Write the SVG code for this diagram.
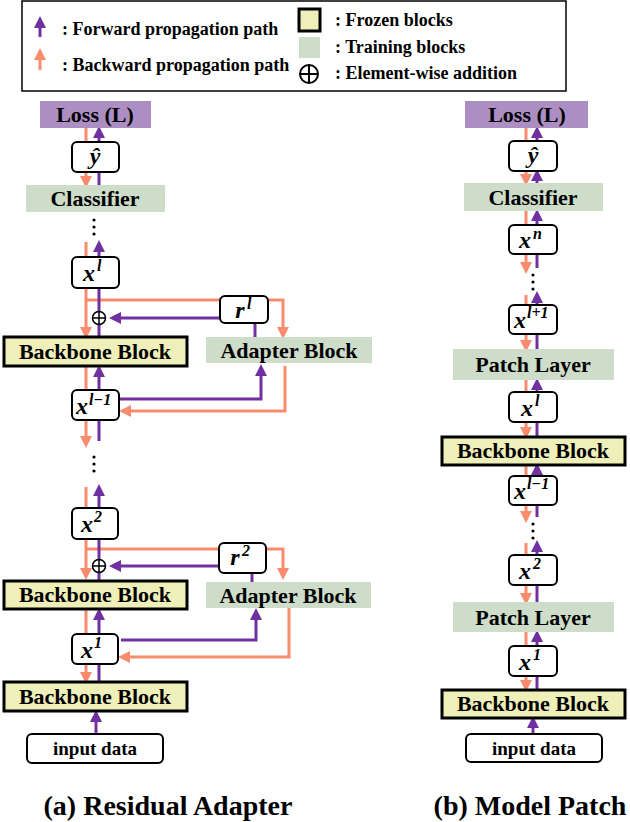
<svg xmlns="http://www.w3.org/2000/svg" width="630" height="822" viewBox="0 0 630 822">
<style>
text{font-family:"Liberation Serif","Times New Roman",serif;font-weight:bold;fill:#000}
.t{font-size:22px;text-anchor:middle}
.m{font-size:24px;font-style:italic;text-anchor:middle}
.sup{font-size:16px;font-style:italic}
.lg{font-size:18px}
.var{fill:#fff;stroke:#000;stroke-width:2}
.frz{fill:#EFEFB9;stroke:#000;stroke-width:3}
.trn{fill:#CEDDCA}
.loss{fill:#AD8EC2}
.p{stroke:#7030A0;stroke-width:3;fill:none}
.o{stroke:#F98C6E;stroke-width:3;fill:none}
.pa{marker-end:url(#ap)}
.oa{marker-end:url(#ao)}
.dot{fill:#000}
</style>
<defs>
<marker id="ap" markerWidth="4" markerHeight="4" refX="2" refY="2" orient="auto" markerUnits="strokeWidth"><path d="M0,0 L4,2 L0,4 Z" fill="#7030A0"/></marker>
<marker id="ao" markerWidth="4" markerHeight="4" refX="2" refY="2" orient="auto" markerUnits="strokeWidth"><path d="M0,0 L4,2 L0,4 Z" fill="#F98C6E"/></marker>
</defs>
<g id="legend">
<rect x="22" y="1" width="544" height="90" fill="#fff" stroke="#000" stroke-width="1.5"/>
<line x1="40" y1="37" x2="40" y2="22" class="p pa"/>
<line x1="40" y1="70" x2="40" y2="54" class="o oa"/>
<text x="62" y="35" class="lg">: Forward propagation path</text>
<text x="62" y="71" class="lg">: Backward propagation path</text>
<rect x="299" y="9" width="21" height="22" class="frz" stroke-width="2"/>
<rect x="299" y="37" width="21" height="21" class="trn"/>
<circle cx="309" cy="74" r="9" fill="none" stroke="#000" stroke-width="2"/>
<path d="M300,74 H318 M309,65 V83" stroke="#000" stroke-width="2"/>
<text x="335" y="26" class="lg">: Frozen blocks</text>
<text x="335" y="53" class="lg">: Training blocks</text>
<text x="335" y="79" class="lg">: Element-wise addition</text>
</g>
<g id="connectors">
<line x1="86" y1="128" x2="86" y2="142" class="o"/>
<line x1="99" y1="142" x2="99" y2="132" class="p pa"/>
<line x1="86" y1="172" x2="86" y2="182" class="o oa"/>
<line x1="99" y1="185" x2="99" y2="172" class="p"/>
<line x1="86" y1="242" x2="86" y2="257" class="o"/>
<line x1="99" y1="257" x2="99" y2="246" class="p pa"/>
<polyline points="86,288 86,333" class="o oa"/>
<polyline points="86,300 283,300 283,333" class="o oa"/>
<line x1="99" y1="288" x2="99" y2="312" class="p"/>
<line x1="99" y1="324" x2="99" y2="336" class="p"/>
<line x1="220" y1="318" x2="115" y2="318" class="p pa"/>
<line x1="255" y1="322" x2="255" y2="337" class="p"/>
<line x1="86" y1="366" x2="86" y2="390" class="o"/>
<line x1="99" y1="390" x2="99" y2="371" class="p pa"/>
<polyline points="119,399 261,399 261,370" class="p pa"/>
<polyline points="285,366 285,411 125,411" class="o oa"/>
<line x1="86" y1="420" x2="86" y2="442" class="o oa"/>
<line x1="99" y1="420" x2="99" y2="441" class="p"/>
<line x1="86" y1="487" x2="86" y2="508" class="o"/>
<line x1="99" y1="508" x2="99" y2="490" class="p pa"/>
<polyline points="86,539 86,574" class="o oa"/>
<polyline points="86,549 283,549 283,574" class="o oa"/>
<line x1="99" y1="539" x2="99" y2="560" class="p"/>
<line x1="99" y1="572" x2="99" y2="580" class="p"/>
<line x1="219" y1="566" x2="115" y2="566" class="p pa"/>
<line x1="252" y1="573" x2="252" y2="582" class="p"/>
<line x1="86" y1="609" x2="86" y2="634" class="o"/>
<line x1="99" y1="634" x2="99" y2="614" class="p pa"/>
<polyline points="121,640 256,640 256,614" class="p pa"/>
<polyline points="289,607 289,657 124,657" class="o oa"/>
<line x1="86" y1="664" x2="86" y2="678" class="o oa"/>
<line x1="99" y1="664" x2="99" y2="681" class="p"/>
<line x1="96" y1="734" x2="96" y2="716" class="p pa"/>
<line x1="526" y1="128" x2="526" y2="141" class="o"/>
<line x1="537" y1="141" x2="537" y2="132" class="p pa"/>
<line x1="526" y1="171" x2="526" y2="180" class="o oa"/>
<line x1="537" y1="183" x2="537" y2="175" class="p pa"/>
<line x1="526" y1="211" x2="526" y2="225" class="o"/>
<line x1="537" y1="225" x2="537" y2="215" class="p pa"/>
<line x1="526" y1="254" x2="526" y2="268" class="o oa"/>
<line x1="537" y1="254" x2="537" y2="268" class="p"/>
<line x1="526" y1="295" x2="526" y2="305" class="o"/>
<line x1="537" y1="305" x2="537" y2="297" class="p pa"/>
<line x1="526" y1="334" x2="526" y2="346" class="o oa"/>
<line x1="537" y1="334" x2="537" y2="349" class="p"/>
<line x1="526" y1="380" x2="526" y2="392" class="o"/>
<line x1="537" y1="392" x2="537" y2="384" class="p pa"/>
<line x1="526" y1="422" x2="526" y2="433" class="o oa"/>
<line x1="537" y1="422" x2="537" y2="436" class="p"/>
<line x1="526" y1="465" x2="526" y2="476" class="o"/>
<line x1="537" y1="476" x2="537" y2="469" class="p pa"/>
<line x1="526" y1="505" x2="526" y2="517" class="o oa"/>
<line x1="537" y1="505" x2="537" y2="517" class="p"/>
<line x1="526" y1="543" x2="526" y2="555" class="o"/>
<line x1="537" y1="555" x2="537" y2="546" class="p pa"/>
<line x1="526" y1="585" x2="526" y2="599" class="o oa"/>
<line x1="537" y1="585" x2="537" y2="602" class="p"/>
<line x1="526" y1="632" x2="526" y2="646" class="o"/>
<line x1="537" y1="646" x2="537" y2="636" class="p pa"/>
<line x1="526" y1="676" x2="526" y2="686" class="o oa"/>
<line x1="537" y1="676" x2="537" y2="689" class="p"/>
<line x1="533" y1="734" x2="533" y2="722" class="p pa"/>
</g>
<g id="dots">
<circle cx="94" cy="220" r="1.6" class="dot"/><circle cx="94" cy="227" r="1.6" class="dot"/><circle cx="94" cy="234" r="1.6" class="dot"/>
<circle cx="94" cy="457" r="1.6" class="dot"/><circle cx="94" cy="464" r="1.6" class="dot"/><circle cx="94" cy="471" r="1.6" class="dot"/>
<circle cx="533" cy="275" r="1.6" class="dot"/><circle cx="533" cy="282" r="1.6" class="dot"/><circle cx="533" cy="289" r="1.6" class="dot"/>
<circle cx="533" cy="524" r="1.6" class="dot"/><circle cx="533" cy="531" r="1.6" class="dot"/><circle cx="533" cy="538" r="1.6" class="dot"/>
</g>
<g id="plus1"><circle cx="99" cy="318" r="6.5" fill="#fff" stroke="#000" stroke-width="1.5"/><path d="M93,318 H105 M99,312 V324" stroke="#000" stroke-width="1.5"/></g>
<g id="plus2"><circle cx="99" cy="566" r="6.5" fill="#fff" stroke="#000" stroke-width="1.5"/><path d="M93,566 H105 M99,560 V572" stroke="#000" stroke-width="1.5"/></g>
<g id="a_loss"><rect x="40" y="101" width="111" height="27" class="loss"/><text x="95" y="122" class="t">Loss (L)</text></g>
<g id="a_yhat"><rect x="72" y="142" width="47" height="30" rx="5" class="var"/><text x="95" y="164" class="m">ŷ</text></g>
<g id="a_cls"><rect x="26" y="185" width="139" height="27" class="trn"/><text x="95" y="206" class="t">Classifier</text></g>
<g id="a_xl"><rect x="72" y="257" width="47" height="31" rx="5" class="var"/><text x="89" y="281" class="m">x</text><text x="97" y="271" class="sup">l</text></g>
<g id="a_rl"><rect x="220" y="296" width="48" height="27" rx="5" class="var"/><text x="240" y="318" class="m">r</text><text x="247" y="309" class="sup">l</text></g>
<g id="a_bb1"><rect x="4" y="337" width="183" height="29" class="frz"/><text x="95" y="359" class="t">Backbone Block</text></g>
<g id="a_ad1"><rect x="206" y="337" width="166" height="26" class="trn"/><text x="289" y="358" class="t">Adapter Block</text></g>
<g id="a_xl1"><rect x="72" y="390" width="47" height="30" rx="5" class="var"/><text x="82" y="414" class="m">x</text><text x="89" y="405" class="sup">l−1</text></g>
<g id="a_x2"><rect x="72" y="508" width="46" height="31" rx="5" class="var"/><text x="87" y="532" class="m">x</text><text x="94" y="522" class="sup">2</text></g>
<g id="a_r2"><rect x="219" y="543" width="47" height="30" rx="5" class="var"/><text x="235" y="565" class="m">r</text><text x="242" y="556" class="sup">2</text></g>
<g id="a_bb2"><rect x="4" y="581" width="183" height="28" class="frz"/><text x="95" y="602" class="t">Backbone Block</text></g>
<g id="a_ad2"><rect x="206" y="582" width="165" height="26" class="trn"/><text x="288" y="603" class="t">Adapter Block</text></g>
<g id="a_x1"><rect x="72" y="634" width="46" height="30" rx="5" class="var"/><text x="87" y="658" class="m">x</text><text x="94" y="648" class="sup">1</text></g>
<g id="a_bb3"><rect x="4" y="682" width="183" height="29" class="frz"/><text x="95" y="704" class="t">Backbone Block</text></g>
<g id="a_in"><rect x="27" y="734" width="136" height="29" rx="5" class="var"/><text x="95" y="755" class="t" style="font-size:19px">input data</text></g>
<g id="b_loss"><rect x="465" y="101" width="123" height="27" class="loss"/><text x="527" y="122" class="t">Loss (L)</text></g>
<g id="b_yhat"><rect x="509" y="141" width="48" height="30" rx="5" class="var"/><text x="533" y="163" class="m">ŷ</text></g>
<g id="b_cls"><rect x="464" y="183" width="139" height="28" class="trn"/><text x="533" y="205" class="t">Classifier</text></g>
<g id="b_xn"><rect x="509" y="225" width="48" height="29" rx="5" class="var"/><text x="525" y="248" class="m">x</text><text x="533" y="239" class="sup">n</text></g>
<g id="b_xl1"><rect x="509" y="305" width="48" height="29" rx="5" class="var"/><text x="520" y="328" class="m">x</text><text x="527" y="318" class="sup">l+1</text></g>
<g id="b_pl1"><rect x="453" y="349" width="161" height="31" class="trn"/><text x="533" y="372" class="t">Patch Layer</text></g>
<g id="b_xl"><rect x="509" y="392" width="48" height="30" rx="5" class="var"/><text x="527" y="416" class="m">x</text><text x="535" y="406" class="sup">l</text></g>
<g id="b_bb1"><rect x="442" y="437" width="183" height="28" class="frz"/><text x="533" y="458" class="t">Backbone Block</text></g>
<g id="b_xlm"><rect x="509" y="476" width="48" height="29" rx="5" class="var"/><text x="520" y="499" class="m">x</text><text x="527" y="489" class="sup">l−1</text></g>
<g id="b_x2"><rect x="509" y="555" width="48" height="30" rx="5" class="var"/><text x="525" y="579" class="m">x</text><text x="533" y="569" class="sup">2</text></g>
<g id="b_pl2"><rect x="453" y="602" width="161" height="30" class="trn"/><text x="533" y="625" class="t">Patch Layer</text></g>
<g id="b_x1"><rect x="509" y="646" width="48" height="30" rx="5" class="var"/><text x="525" y="670" class="m">x</text><text x="533" y="660" class="sup">1</text></g>
<g id="b_bb2"><rect x="442" y="690" width="183" height="28" class="frz"/><text x="533" y="711" class="t">Backbone Block</text></g>
<g id="b_in"><rect x="466" y="734" width="136" height="28" rx="5" class="var"/><text x="534" y="755" class="t" style="font-size:19px">input data</text></g>
<text x="168" y="815" class="t" style="font-size:28px">(a) Residual Adapter</text>
<text x="530" y="815" class="t" style="font-size:28px">(b) Model Patch</text>
</svg>
